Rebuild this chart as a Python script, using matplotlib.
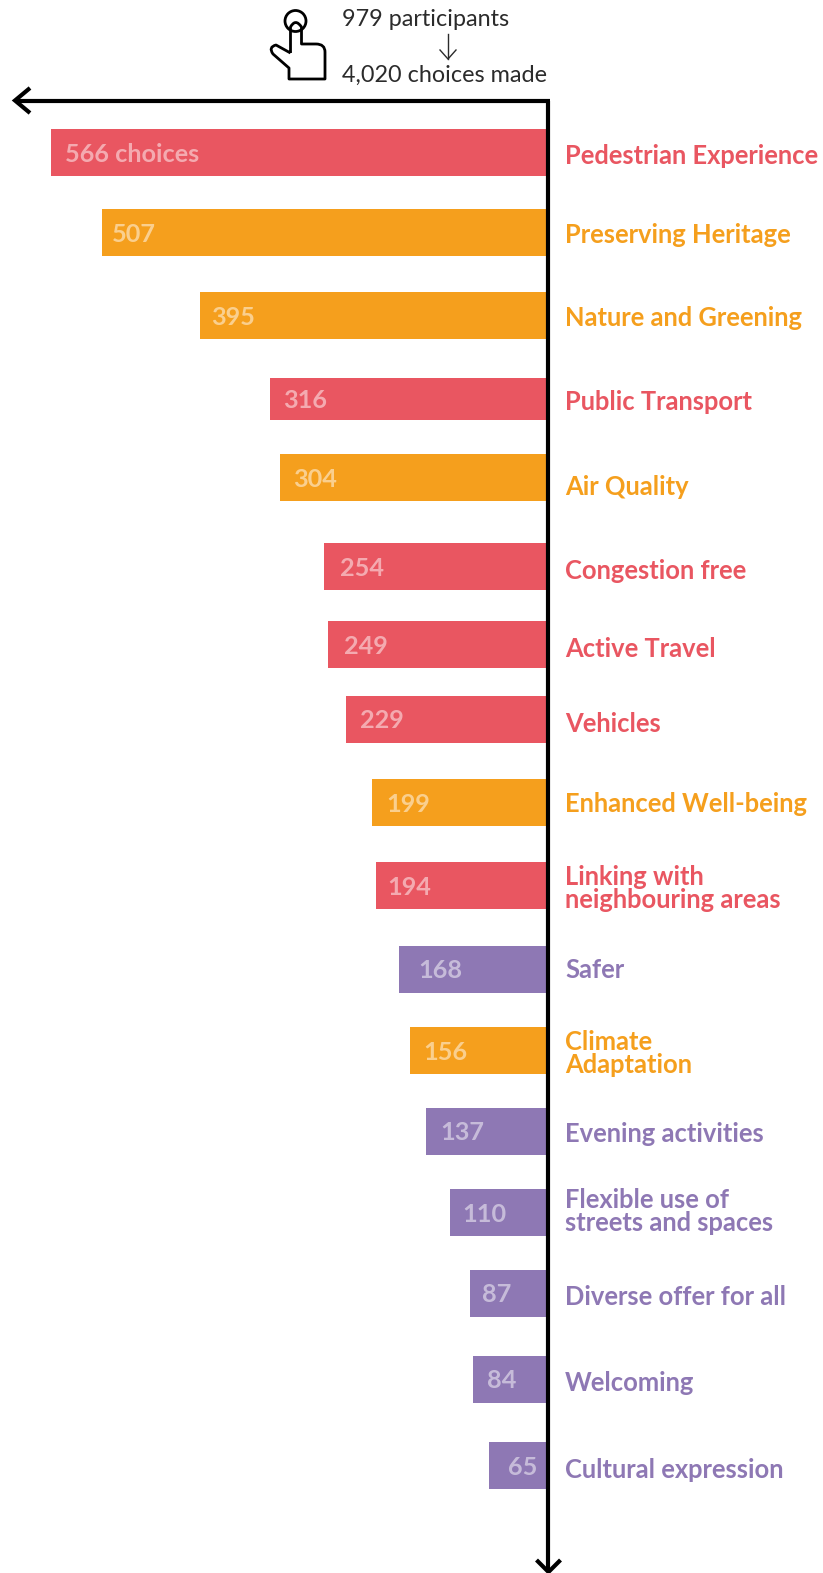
#!/usr/bin/env python3
import matplotlib
matplotlib.use('Agg')
import matplotlib.pyplot as plt
from matplotlib.path import Path
from matplotlib.patches import PathPatch, Circle

RED = '#E95661'
ORANGE = '#F59F1D'
PURPLE = '#8E78B4'
INK = '#2B2B2B'

categories = [
    'Pedestrian Experience', 'Preserving Heritage', 'Nature and Greening', 'Public Transport',
    'Air Quality', 'Congestion free', 'Active Travel', 'Vehicles', 'Enhanced Well-being',
    'Linking with\nneighbouring areas', 'Safer', 'Climate\nAdaptation', 'Evening activities',
    'Flexible use of\nstreets and spaces', 'Diverse offer for all', 'Welcoming', 'Cultural expression',
]
choices = [566, 507, 395, 316, 304, 254, 249, 229, 199, 194, 168, 156, 137, 110, 87, 84, 65]
value_labels = ['566 choices'] + [str(v) for v in choices[1:]]
groups = ['r', 'o', 'o', 'r', 'o', 'r', 'r', 'r', 'o', 'r', 'p', 'o', 'p', 'p', 'p', 'p', 'p']
group_colors = {'r': RED, 'o': ORANGE, 'p': PURPLE}

# layout, in pixels of the 823x1573 picture
bar_top = [129, 209, 292, 377.5, 454, 543, 621, 695.5, 779, 862, 945.5, 1026.5, 1107.5, 1189, 1269.5, 1355.5, 1442]
bar_height = [47, 47, 47, 42, 47, 47, 47, 47, 47, 47, 47, 47, 47, 47, 47, 47, 47]
value_x = [65, 112, 211, 283, 293, 340, 344, 360, 386, 387, 418, 423, 440, 462, 482, 487, 508]
label_y = [156.5, 235, 318, 402.5, 487, 571, 649, 723.5, 804.5, 888.5, 970.5, 1053.5, 1134, 1211.5, 1297, 1383, 1469.5]

W, H = 823, 1573
ZERO_PX = 546
PX_PER_CHOICE = 0.875

plt.rcParams['font.family'] = ['Lato', 'DejaVu Sans']
fig = plt.figure(figsize=(W / 100, H / 100), dpi=100)

# bars: x axis counts choices, growing to the left from the vertical axis
ax_bars = fig.add_axes([0, 0, 1, 1])
ax_bars.set_xlim(ZERO_PX / PX_PER_CHOICE, (ZERO_PX - W) / PX_PER_CHOICE)
ax_bars.set_ylim(H, 0)
ax_bars.axis('off')
ax_bars.barh(
    [t + h / 2 for t, h in zip(bar_top, bar_height)], choices, height=bar_height,
    color=[group_colors[g] for g in groups], linewidth=0)

# everything else sits on a pixel axes on top
ax = fig.add_axes([0, 0, 1, 1])
ax.set_xlim(0, W)
ax.set_ylim(H, 0)
ax.axis('off')
ax.patch.set_alpha(0)

for cat, lab, g, vx, top, h, ly in zip(categories, value_labels, groups, value_x, bar_top, bar_height, label_y):
    ax.text(vx, top + h / 2 + 2, lab, color='white', alpha=0.5, fontsize=18.2, fontweight='bold',
            ha='left', va='center')
    ax.text(565, ly, cat, color=group_colors[g], fontsize=18.4, fontweight='bold', ha='left', va='center',
            linespacing=0.92)

# axes with chevron heads
line = dict(color='black', lw=3, solid_capstyle='butt', solid_joinstyle='miter')
ax.plot([16, 550], [100.5, 100.5], **line)
ax.plot([548.5, 548.5], [100.5, 1570], **line)
ax.plot([30, 15, 30], [88, 100.5, 113], **line)
ax.plot([536.5, 548.5, 560.5], [1560, 1572, 1560], **line)

# header
ax.text(342, 20, '979 participants', color=INK, fontsize=16.8, ha='left', va='center')
ax.text(342, 75.5, '4,020 choices made', color=INK, fontsize=16.8, ha='left', va='center')
ax.plot([448, 448], [34, 59], color=INK, lw=1)
ax.plot([440, 448, 456], [50, 59, 50], color=INK, lw=1)

# hand icon
ax.add_patch(Circle((295.5, 21), 10.5, fill=False, ec='black', lw=2))
hand = [
    (Path.MOVETO, (290.5, 53)), (Path.LINETO, (290.5, 27)),
    (Path.CURVE3, (295.5, 18)), (Path.CURVE3, (301.5, 27)),
    (Path.LINETO, (301.5, 44)), (Path.LINETO, (316, 44)),
    (Path.CURVE3, (325, 44)), (Path.CURVE3, (325, 52)),
    (Path.LINETO, (325, 79)), (Path.LINETO, (289, 79)),
    (Path.LINETO, (289, 68)), (Path.LINETO, (273, 54)),
    (Path.CURVE3, (268, 47)), (Path.CURVE3, (276, 45)),
    (Path.LINETO, (290.5, 53)),
]
codes, verts = zip(*hand)
ax.add_patch(PathPatch(Path(verts, codes), fill=False, ec='black', lw=2, joinstyle='round'))

fig.savefig('out.png', dpi=100)
